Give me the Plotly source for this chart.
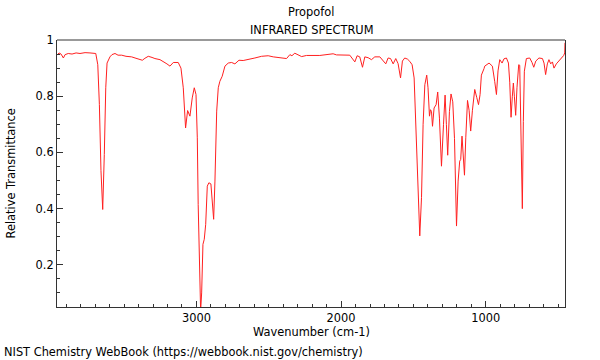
import plotly.graph_objects as go

wavenumber = [3964, 3950, 3936, 3920, 3908, 3886, 3860, 3832, 3805, 3770, 3736, 3696, 3682, 3671, 3660,
              3648, 3637, 3627, 3618, 3598, 3584, 3563, 3542, 3517, 3487, 3448, 3418, 3390, 3374, 3356,
              3333, 3307, 3287, 3252, 3222, 3204, 3183, 3160, 3126, 3107, 3091, 3075, 3061, 3045, 3029,
              3015, 3003, 2994, 2988, 2978, 2971, 2964, 2955, 2946, 2936, 2925, 2914, 2900, 2888, 2881,
              2872, 2860, 2849, 2838, 2822, 2803, 2780, 2757, 2734, 2706, 2677, 2642, 2596, 2550, 2504,
              2469, 2423, 2377, 2354, 2340, 2320, 2273, 2239, 2147, 2055, 2032, 1940, 1905, 1889, 1871,
              1852, 1836, 1813, 1790, 1767, 1732, 1691, 1675, 1658, 1640, 1622, 1606, 1589, 1576, 1560,
              1541, 1525, 1509, 1495, 1484, 1472, 1456, 1444, 1433, 1421, 1408, 1399, 1389, 1382, 1375,
              1368, 1357, 1343, 1332, 1320, 1306, 1292, 1281, 1272, 1263, 1251, 1240, 1228, 1216, 1202,
              1191, 1180, 1173, 1164, 1154, 1147, 1138, 1126, 1115, 1104, 1092, 1076, 1062, 1050, 1039,
              1030, 1012, 1007, 977, 954, 938, 926, 915, 903, 887, 874, 857, 843, 834, 825,
              816, 809, 802, 793, 784, 772, 765, 756, 747, 740, 733, 719, 696, 680, 668,
              654, 632, 608, 597, 586, 574, 563, 551, 539, 528, 512, 494, 480, 470, 461,
              454, 452]
transmittance = [0.946, 0.954, 0.950, 0.936, 0.948, 0.952, 0.950, 0.954, 0.952, 0.955, 0.954, 0.952, 0.912, 0.770, 0.535,
                 0.397, 0.593, 0.830, 0.918, 0.940, 0.948, 0.952, 0.946, 0.946, 0.942, 0.940, 0.935, 0.930, 0.928, 0.935,
                 0.942, 0.938, 0.934, 0.930, 0.922, 0.915, 0.907, 0.920, 0.920, 0.900, 0.830, 0.687, 0.749, 0.729, 0.794,
                 0.830, 0.806, 0.652, 0.415, 0.180, 0.035, 0.100, 0.273, 0.291, 0.344, 0.480, 0.492, 0.488, 0.420, 0.362,
                 0.498, 0.747, 0.830, 0.853, 0.871, 0.907, 0.918, 0.920, 0.915, 0.928, 0.927, 0.932, 0.936, 0.942, 0.944,
                 0.940, 0.937, 0.934, 0.948, 0.944, 0.953, 0.941, 0.945, 0.945, 0.951, 0.947, 0.946, 0.922, 0.944, 0.940,
                 0.903, 0.940, 0.937, 0.930, 0.940, 0.940, 0.915, 0.936, 0.934, 0.915, 0.934, 0.916, 0.865, 0.925, 0.936,
                 0.932, 0.924, 0.912, 0.865, 0.711, 0.498, 0.303, 0.439, 0.700, 0.841, 0.875, 0.830, 0.729, 0.752, 0.746,
                 0.693, 0.758, 0.770, 0.815, 0.722, 0.551, 0.700, 0.804, 0.700, 0.590, 0.745, 0.808, 0.780, 0.650, 0.338,
                 0.498, 0.569, 0.575, 0.658, 0.585, 0.519, 0.652, 0.785, 0.750, 0.676, 0.750, 0.824, 0.795, 0.770, 0.806,
                 0.875, 0.898, 0.907, 0.918, 0.907, 0.853, 0.806, 0.890, 0.930, 0.918, 0.933, 0.936, 0.918, 0.850, 0.725,
                 0.800, 0.847, 0.800, 0.732, 0.830, 0.912, 0.910, 0.710, 0.400, 0.710, 0.889, 0.934, 0.936, 0.920, 0.903,
                 0.925, 0.936, 0.934, 0.918, 0.877, 0.915, 0.930, 0.915, 0.922, 0.900, 0.915, 0.925, 0.936, 0.938, 0.945,
                 0.954, 0.990]

x_ticks = [3000, 2000, 1000]
y_ticks = [0.2, 0.4, 0.6, 0.8, 1.0]
y_tick_text = ["0.2", "0.4", "0.6", "0.8", "1"]

FONT = "DejaVu Sans"
FS = 11.4
fig = go.Figure()
fig.add_trace(go.Scatter(x=wavenumber, y=transmittance, mode="lines",
                         line=dict(color="#ff2020", width=1), hoverinfo="skip"))

fig.update_layout(
    width=600, height=360,
    margin=dict(l=57, r=35, t=40, b=53),
    paper_bgcolor="white", plot_bgcolor="white",
    showlegend=False,
    font=dict(family=FONT, size=FS, color="black"),
    xaxis=dict(range=[3964, 452], tickvals=x_ticks, ticks="inside", ticklen=6, tickcolor="#333",
               showgrid=False, zeroline=False, showline=True, linecolor="#333", linewidth=1,
               minor=dict(dtick=100, tick0=0, ticks="inside", ticklen=3, tickcolor="#333", showgrid=False),
               tickfont=dict(size=FS)),
    yaxis=dict(range=[0.05, 1.0], tickvals=y_ticks, ticktext=y_tick_text, ticks="inside", ticklen=6,
               tickcolor="#333", showgrid=False, zeroline=False, showline=True, linecolor="#333",
               linewidth=1, mirror=True,
               minor=dict(dtick=0.05, tick0=0, ticks="inside", ticklen=3, tickcolor="#333", showgrid=False),
               tickfont=dict(size=FS)),
    shapes=[dict(type="line", xref="paper", yref="paper", x0=0, x1=1, y0=1, y1=1,
                 line=dict(color="#999999", width=2))],
    annotations=[
        dict(text="Propofol", xref="paper", yref="paper", x=0.5, y=1, yshift=28, showarrow=False,
             xanchor="center", yanchor="middle", font=dict(size=FS)),
        dict(text="INFRARED SPECTRUM", xref="paper", yref="paper", x=0.5, y=1, yshift=10, showarrow=False,
             xanchor="center", yanchor="middle", font=dict(size=FS)),
        dict(text="Wavenumber (cm-1)", xref="paper", yref="paper", x=0.5, y=0, yshift=-25, showarrow=False,
             xanchor="center", yanchor="middle", font=dict(size=FS)),
        dict(text="Relative Transmittance", xref="paper", yref="paper", x=0, xshift=-47, y=0.5,
             showarrow=False, textangle=-90, xanchor="center", yanchor="middle", font=dict(size=FS)),
        dict(text="NIST Chemistry WebBook (https://webbook.nist.gov/chemistry)", xref="paper", yref="paper",
             x=0, xshift=-55, y=0, yshift=-45, showarrow=False, xanchor="left", yanchor="middle",
             font=dict(size=FS)),
    ],
)

fig.write_html("out.html", config={"displayModeBar": False},
               post_script="document.body.style.margin='0';")
